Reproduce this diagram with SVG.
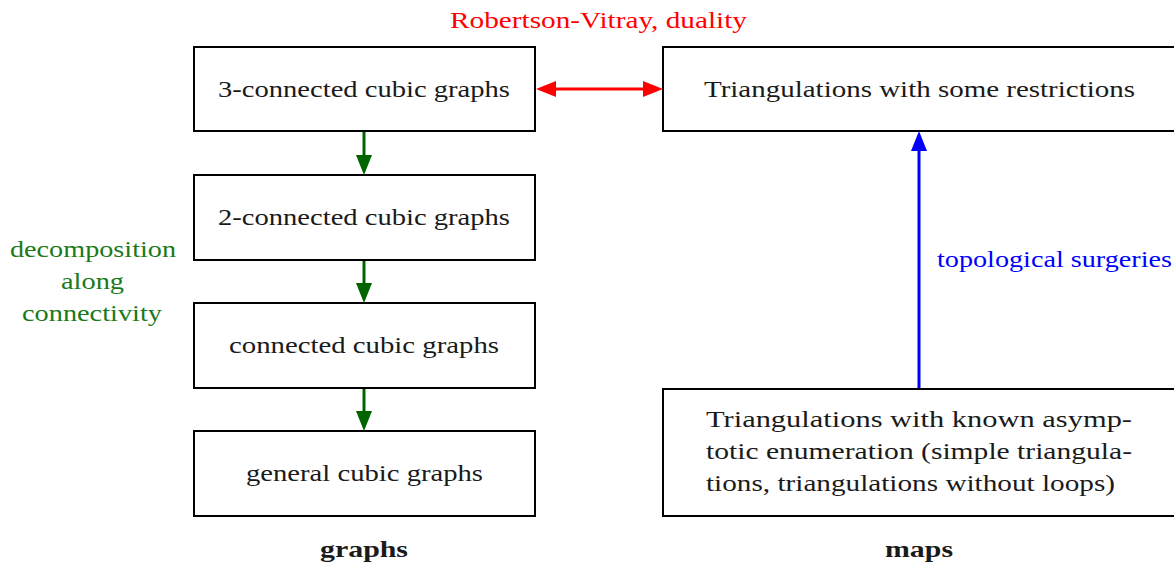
<svg xmlns="http://www.w3.org/2000/svg" width="1174" height="562" viewBox="0 0 1174 562">
<style>
.box{fill:#fff;stroke:#000;stroke-width:2}
.t{font-family:"Liberation Serif",serif;font-size:24px;fill:#1a1a1a}
.b{font-weight:bold}
.cn{fill:none;stroke-width:3}
</style>
<defs>
<marker id="ag" viewBox="0 0 20 16" refX="10" refY="8" markerWidth="20" markerHeight="16" orient="auto" markerUnits="userSpaceOnUse"><path d="M0,0 L20,8 L0,16 z" fill="#006400"/></marker>
<marker id="ar" viewBox="0 0 20 16" refX="10" refY="8" markerWidth="20" markerHeight="16" orient="auto-start-reverse" markerUnits="userSpaceOnUse"><path d="M0,0 L20,8 L0,16 z" fill="#ff0000"/></marker>
<marker id="ab" viewBox="0 0 20 16" refX="10" refY="8" markerWidth="20" markerHeight="16" orient="auto" markerUnits="userSpaceOnUse"><path d="M0,0 L20,8 L0,16 z" fill="#0000ff"/></marker>
</defs>
<rect width="1174" height="562" fill="#fff"/>
<g id="n3c"><rect class="box" x="194" y="47" width="341" height="84"/><text class="t" x="218" y="97" textLength="292" lengthAdjust="spacingAndGlyphs">3-connected cubic graphs</text></g>
<g id="n2c"><rect class="box" x="194" y="175" width="341" height="85"/><text class="t" x="218" y="225" textLength="292" lengthAdjust="spacingAndGlyphs">2-connected cubic graphs</text></g>
<g id="nc"><rect class="box" x="194" y="303" width="341" height="85"/><text class="t" x="229" y="353" textLength="270" lengthAdjust="spacingAndGlyphs">connected cubic graphs</text></g>
<g id="ng"><rect class="box" x="194" y="431" width="341" height="85"/><text class="t" x="246" y="481" textLength="237" lengthAdjust="spacingAndGlyphs">general cubic graphs</text></g>
<g id="ntri"><rect class="box" x="663" y="47" width="520" height="84"/><text class="t" x="704" y="97" textLength="431" lengthAdjust="spacingAndGlyphs">Triangulations with some restrictions</text></g>
<g id="nknown"><rect class="box" x="663" y="389" width="520" height="127"/>
<text class="t" x="706" y="427" textLength="426" lengthAdjust="spacingAndGlyphs">Triangulations with known asymp-</text>
<text class="t" x="706" y="459" textLength="426" lengthAdjust="spacingAndGlyphs">totic enumeration (simple triangula-</text>
<text class="t" x="706" y="491" textLength="409" lengthAdjust="spacingAndGlyphs">tions, triangulations without loops)</text></g>
<g id="connectors">
<path class="cn" d="M364,132 V165" stroke="#006400" marker-end="url(#ag)"/>
<path class="cn" d="M364,261 V293" stroke="#006400" marker-end="url(#ag)"/>
<path class="cn" d="M364,389 V421" stroke="#006400" marker-end="url(#ag)"/>
<path class="cn" d="M546,89 H653" stroke="#ff0000" marker-start="url(#ar)" marker-end="url(#ar)"/>
<path class="cn" d="M919,388 V141" stroke="#0000ff" marker-end="url(#ab)"/>
</g>
<g id="labels">
<text class="t" x="450" y="28" textLength="297" lengthAdjust="spacingAndGlyphs" style="fill:#ff0000">Robertson-Vitray, duality</text>
<text class="t" x="937" y="267" textLength="235" lengthAdjust="spacingAndGlyphs" style="fill:#0000ff">topological surgeries</text>
<text class="t" x="10" y="257" textLength="166" lengthAdjust="spacingAndGlyphs" style="fill:#1a7a1a">decomposition</text>
<text class="t" x="61" y="289" textLength="63" lengthAdjust="spacingAndGlyphs" style="fill:#1a7a1a">along</text>
<text class="t" x="22" y="321" textLength="140" lengthAdjust="spacingAndGlyphs" style="fill:#1a7a1a">connectivity</text>
<text class="t b" x="320" y="557" textLength="88" lengthAdjust="spacingAndGlyphs">graphs</text>
<text class="t b" x="885" y="557" textLength="68" lengthAdjust="spacingAndGlyphs">maps</text>
</g>
</svg>
